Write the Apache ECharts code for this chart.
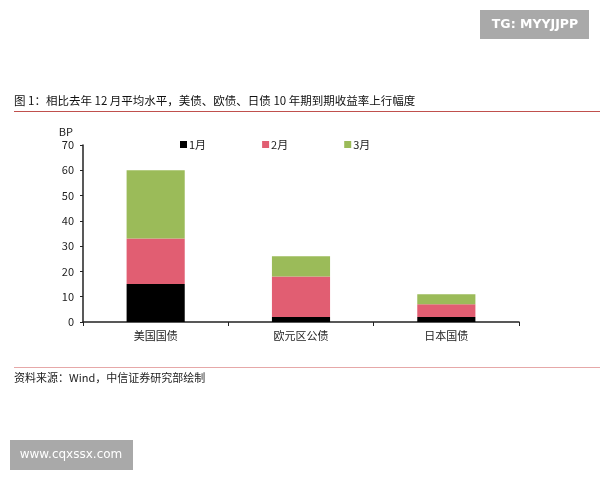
<!DOCTYPE html>
<html><head><meta charset="utf-8">
<script src="https://cdn.jsdelivr.net/npm/echarts@6/dist/echarts.min.js"></script>
<style>html,body{margin:0;padding:0;background:#fff}#c{width:600px;height:480px}</style>
</head><body><div id="c"></div>
<script>
const categories = ['美国国债', '欧元区公债', '日本国债'];
const jan = [15, 2, 2];
const feb = [18, 16, 5];
const mar = [27, 8, 4];
const seriesNames = ['1月', '2月', '3月'];
const yTicks = [0, 10, 20, 30, 40, 50, 60, 70];

const FONT = '"Noto Sans CJK SC", "Liberation Sans", sans-serif';
const chart = echarts.init(document.getElementById('c'));
const colors = ['#000000', '#e15e72', '#9bbb59'];
const vals = [jan, feb, mar];
chart.setOption({
  animation: false,
  textStyle: { fontFamily: FONT },
  grid: { left: 83, right: 81, top: 145, bottom: 158 },
  legend: {
    top: 134, left: 175, itemGap: 56, itemWidth: 7, itemHeight: 7,
    icon: 'rect',
    textStyle: { fontSize: 11, color: '#222', fontFamily: FONT, padding: [0, 0, 0, -3] },
    data: seriesNames
  },
  xAxis: {
    type: 'category', data: categories,
    axisLine: { lineStyle: { color: '#222', width: 1.5 } },
    axisTick: { show: true, alignWithLabel: false, length: 4, lineStyle: { color: '#222' } },
    axisLabel: { fontSize: 11, color: '#222', margin: 8 }
  },
  yAxis: {
    type: 'value', min: 0, max: 70, interval: 10,
    name: 'BP', nameLocation: 'end', nameGap: 8,
    nameTextStyle: { fontSize: 11, color: '#222', align: 'right', padding: [0, 10, 0, 0] },
    axisLine: { show: true, lineStyle: { color: '#222', width: 1.5 } },
    axisTick: { show: true, length: 3, lineStyle: { color: '#222' } },
    splitLine: { show: false },
    axisLabel: { fontSize: 11, color: '#222', margin: 9,
      formatter: v => yTicks.includes(v) ? String(v) : '' }
  },
  series: seriesNames.map((n, i) => ({
    name: n, type: 'bar', stack: 'total', data: vals[i],
    barWidth: '40%', itemStyle: { color: colors[i] }
  })),
  graphic: [
    { type: 'text', left: 14, top: 95, style: { text: '图 1：相比去年 12 月平均水平，美债、欧债、日债 10 年期到期收益率上行幅度', font: '11.5px ' + FONT, fill: '#111' } },
    { type: 'rect', shape: { x: 14, y: 111, width: 586, height: 1 }, style: { fill: '#c0504d' } },
    { type: 'rect', shape: { x: 14, y: 367, width: 586, height: 1 }, style: { fill: '#e6a8a8' } },
    { type: 'text', left: 14, top: 372, style: { text: '资料来源：Wind，中信证券研究部绘制', font: '11px ' + FONT, fill: '#222' } },
    { type: 'rect', shape: { x: 480, y: 10, width: 109, height: 29 }, style: { fill: '#a9a9a9' } },
    { type: 'text', x: 535, y: 24.5, style: { text: 'TG: MYYJJPP', font: 'bold 12.5px "DejaVu Sans", sans-serif', fill: '#fff', align: 'center', verticalAlign: 'middle' } },
    { type: 'rect', shape: { x: 10, y: 440, width: 123, height: 30 }, style: { fill: '#a9a9a9' } },
    { type: 'text', x: 71, y: 455, style: { text: 'www.cqxssx.com', font: '12px "DejaVu Sans", sans-serif', fill: '#fff', align: 'center', verticalAlign: 'middle' } }
  ]
});
</script></body></html>
